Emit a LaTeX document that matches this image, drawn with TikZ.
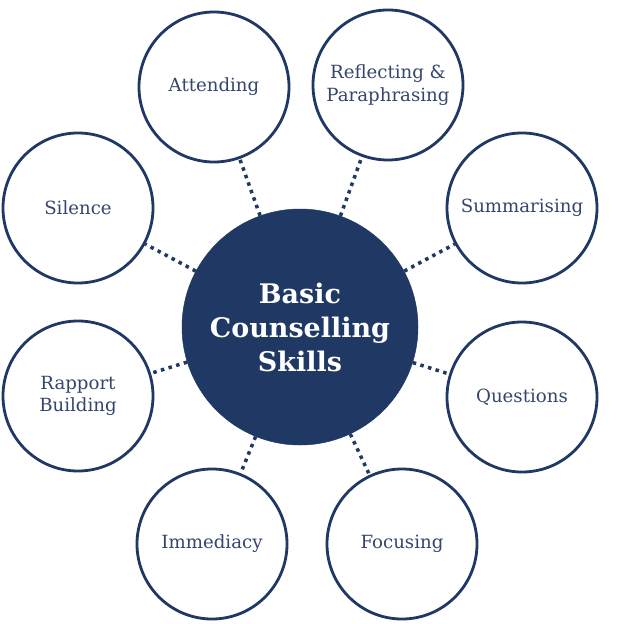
\documentclass[tikz,border=0pt]{standalone}
\usepackage{fontspec}
\setmainfont{DejaVu Serif}
\usetikzlibrary{positioning}
\definecolor{navy}{HTML}{1F3864}
\definecolor{skilltext}{HTML}{34466B}

\begin{document}
\begin{tikzpicture}[
  x=0.03cm, y=-0.03cm,
  hub/.style={circle, fill=navy, draw=navy, minimum size=7.08cm, inner sep=0pt, align=center,
    text=white, font=\fontsize{23}{29}\selectfont\bfseries},
  skill/.style={circle, draw=navy, line width=2.4pt, fill=white, minimum size=4.5cm, inner sep=0pt,
    align=center, text=skilltext, font=\fontsize{15.5}{19}\selectfont},
  link/.style={draw=navy, line width=3pt, dash pattern=on 3pt off 3.8pt}
]
  \useasboundingbox[fill=white] (0,0) rectangle (620,624);

  % centre
  \node[hub] (basic) at (300,327) {Basic\\Counselling\\Skills};

  % the eight skills, clockwise from top left
  \node[skill] (attending) at (214,87) {Attending};
  \node[skill] (reflecting) at (388,85) {Reflecting \&\\Paraphrasing};
  \node[skill] (summarising) at (522,208) {Summarising};
  \node[skill] (questions) at (522,397) {Questions};
  \node[skill] (focusing) at (402,544) {Focusing};
  \node[skill] (immediacy) at (212,544) {Immediacy};
  \node[skill] (rapport) at (78,396) {Rapport\\Building};
  \node[skill] (silence) at (78,208) {Silence};

  % dotted links
  \draw[link] (basic) -- (attending);
  \draw[link] (basic) -- (reflecting);
  \draw[link] (basic) -- (summarising);
  \draw[link] (basic) -- (questions);
  \draw[link] (basic) -- (focusing);
  \draw[link] (basic) -- (immediacy);
  \draw[link] (basic) -- (rapport);
  \draw[link] (basic) -- (silence);
\end{tikzpicture}
\end{document}
